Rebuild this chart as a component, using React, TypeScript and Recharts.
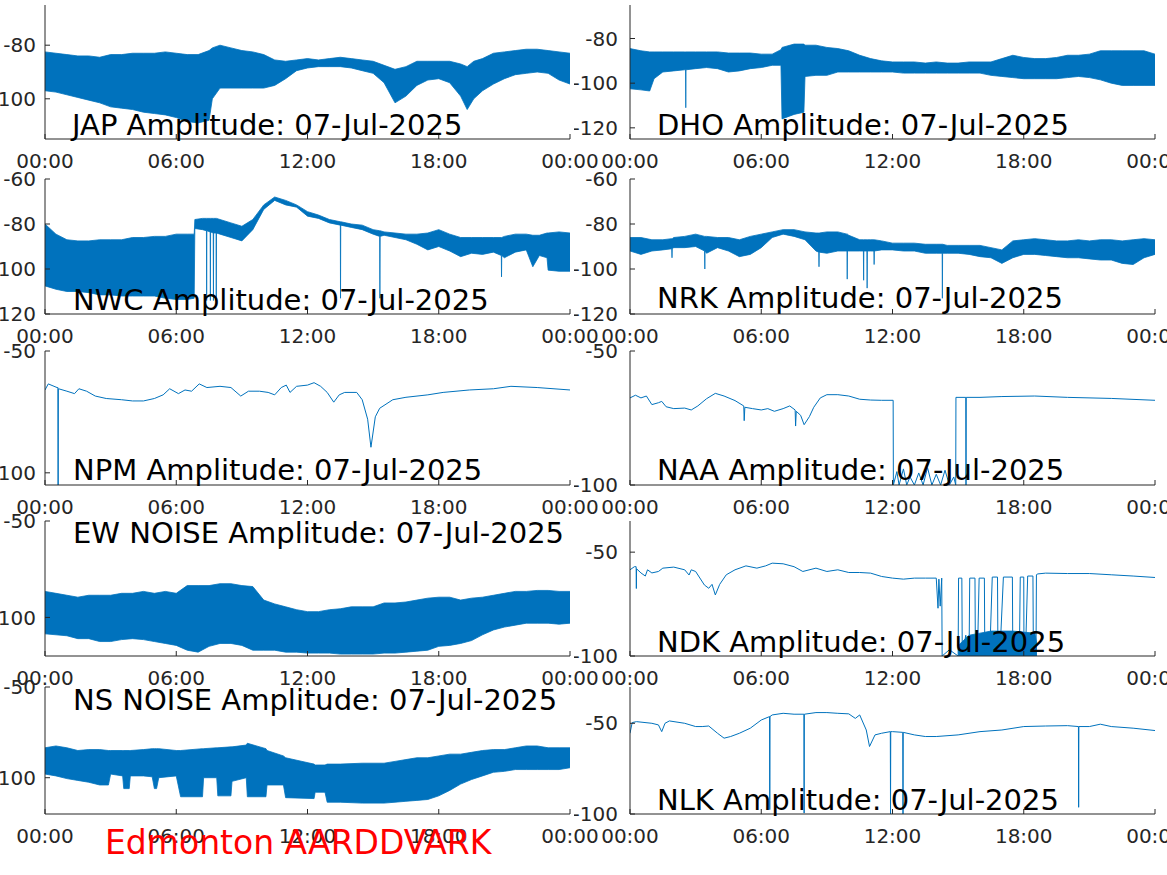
import { ComposedChart, Area, Line, XAxis, YAxis } from "recharts";

const BLUE = "#0072BD";
const INK = "#262626";
const FONT = "DejaVu Sans";

const hourTicks = [0, 6, 12, 18, 24];
const hourLabels = ["00:00", "06:00", "12:00", "18:00", "00:00"];

// JAP (noisy band: upper / lower envelope)
const japT = [0, 0.5, 1, 1.5, 2, 2.5, 3, 3.5, 4, 4.5, 5, 5.5, 6, 6.5, 7, 7.5, 7.65, 8, 8.5, 9, 9.5, 10, 10.5, 11, 11.5, 12, 12.5, 13, 13.5, 14, 14.5, 15, 15.5, 16, 16.5, 17, 17.5, 18, 18.5, 19, 19.3, 19.6, 20, 20.5, 21, 21.5, 22, 22.5, 23, 23.5, 24];
const japHi = [-82.5, -83, -83.5, -84, -84, -84.5, -83.5, -83.5, -83, -83, -83, -82.5, -83, -83.5, -83.5, -82, -81, -80, -81, -82, -82.5, -83.5, -85.5, -86, -85.5, -85, -85.5, -85, -84.5, -85, -85.5, -86, -87.5, -89, -88, -86, -86, -86, -86, -87, -88, -86, -85, -83, -82.5, -82, -81.5, -81.5, -82, -82.5, -83];
const japLo = [-97, -97.5, -98.5, -99.5, -100.5, -101.5, -103, -103.5, -104, -105, -105.5, -106, -107, -108.5, -109, -108, -100, -96, -96, -96, -96, -96, -95, -92.5, -89.5, -88.5, -88, -88, -88, -88.5, -89.5, -90.5, -94, -101.5, -99, -95, -93, -92.5, -94, -99, -104, -100, -97, -94.5, -92.5, -91, -90.5, -90, -90.5, -93, -94.5];

// DHO
const dhoT = [0, 0.5, 0.9, 1.1, 1.5, 2, 2.5, 2.54, 2.55, 2.56, 3, 3.5, 4, 4.5, 5, 5.5, 6, 6.5, 6.9, 6.95, 7.5, 7.95, 8, 8.5, 9, 9.5, 10, 10.5, 11, 11.5, 12, 12.5, 13, 13.5, 14, 14.5, 15, 15.5, 16, 16.5, 17, 17.5, 18, 18.5, 19, 19.5, 20, 20.5, 21, 21.5, 22, 22.5, 23, 23.5, 24];
const dhoHi = [-84.5, -85.5, -86, -86, -86, -86, -86, -86, -86, -86, -86, -86, -86, -86.5, -86.5, -86.5, -87, -87, -85, -84, -82.5, -82.5, -83, -83, -84, -84.5, -85.5, -87.5, -89, -90, -90.5, -90.5, -90.5, -91, -90.5, -91, -91, -90.5, -90.5, -90.5, -89, -87.5, -88.5, -89, -89, -88.5, -87.5, -87.5, -87, -85.5, -85.5, -85.5, -85.5, -85.5, -87];
const dhoLo = [-102.5, -103, -103.5, -98, -95, -94.5, -94, -94, -111, -94, -93.5, -93, -93.5, -95, -94.5, -93.5, -93, -92, -92, -116, -114, -113, -97, -96.5, -96.5, -95, -95, -95, -95, -95, -95, -95.5, -95.5, -95.5, -95.5, -95.5, -95.5, -95.5, -95.5, -96.5, -97, -97.5, -98, -98, -98, -98, -97.5, -97, -97.5, -98.5, -100, -101, -101, -101, -101];

// NWC
const nwcT = [0, 0.5, 1, 1.5, 2, 2.5, 3, 3.5, 4, 4.5, 5, 5.5, 6, 6.5, 6.82, 6.85, 7.2, 7.38, 7.39, 7.4, 7.55, 7.56, 7.57, 7.69, 7.7, 7.71, 7.82, 7.83, 7.84, 8, 8.5, 9, 9.5, 10, 10.5, 11, 11.5, 12, 12.5, 13, 13.5, 13.51, 13.52, 14, 14.5, 15, 15.3, 15.31, 15.32, 15.5, 16, 16.5, 17, 17.5, 18, 18.5, 19, 19.5, 20, 20.5, 20.86, 20.87, 20.88, 21, 21.5, 22, 22.3, 22.6, 22.95, 23, 23.5, 24];
const nwcHi = [-80, -84.5, -87, -87.5, -87.5, -87, -87, -87, -86, -86, -85.5, -85.5, -84.5, -84.5, -84.5, -78, -77.5, -77.5, -77.5, -77.5, -77.5, -77.5, -77.5, -77.5, -77.5, -77.5, -77.5, -77.5, -77.5, -78, -79.5, -81, -78, -71.5, -68, -69.5, -71.5, -74.5, -76, -78, -79, -79, -79, -80, -80.5, -82.5, -83, -83, -83, -83.5, -84, -84.5, -84.5, -84, -82.5, -84.5, -86, -86, -86, -86, -86, -86, -86, -85.5, -84.5, -84.5, -85, -85, -84, -84, -83.5, -84];
const nwcLo = [-107.5, -109, -110, -110, -110.5, -111.5, -111.5, -112, -112, -112, -112, -113, -113.5, -113.5, -113, -82, -82.5, -83, -114, -83, -83.5, -114, -83.5, -84, -114, -84, -84, -114, -84, -84.5, -86, -87.5, -82.5, -73.5, -69.5, -71.5, -72.5, -76.5, -77.5, -79.5, -80.5, -113, -80.5, -81.5, -82.5, -84.5, -85.5, -113, -85.5, -85, -86, -87, -89, -91.5, -90, -92, -94.5, -93, -93.5, -92.5, -94, -103.5, -94, -95, -92.5, -91.5, -99, -94, -95, -100.5, -101, -101];

// NRK
const nrkT = [0, 0.5, 1, 1.5, 1.91, 1.92, 1.93, 2, 2.5, 3, 3.41, 3.42, 3.43, 3.5, 4, 4.5, 5, 5.5, 6, 6.5, 7, 7.5, 8, 8.5, 8.63, 8.64, 8.65, 9, 9.5, 9.92, 9.93, 9.94, 10, 10.5, 10.67, 10.68, 10.69, 10.83, 10.84, 10.85, 11, 11.15, 11.16, 11.17, 11.5, 12, 12.5, 13, 13.5, 14, 14.27, 14.28, 14.29, 14.5, 15, 15.5, 16, 16.5, 17, 17.5, 18, 18.5, 19, 19.5, 20, 20.5, 21, 21.5, 22, 22.5, 23, 23.5, 24];
const nrkHi = [-86, -86, -87, -87, -86.5, -86.5, -86.5, -86, -85.5, -84.5, -85.5, -85.5, -85.5, -85.5, -86, -86, -87, -85.5, -84.5, -83.5, -82.5, -82.5, -83.5, -84, -84, -84, -84, -83.5, -83.5, -84.5, -84.5, -84.5, -85, -87, -87, -87, -87, -87, -87, -87, -87, -87, -87, -87, -87.5, -88.5, -88.5, -88.5, -89, -89, -89, -89, -89, -89.5, -89.5, -89.5, -89.5, -90.5, -91.5, -87.5, -87, -86.5, -87, -87.5, -87.5, -87, -87.5, -87, -87, -87.5, -87, -86.5, -87];
const nrkLo = [-92, -93.5, -92, -91.5, -91, -95, -91, -90.5, -90.5, -90, -92, -100, -92, -93, -90.5, -92, -94.5, -93.5, -90.5, -86, -84.5, -85.5, -87, -92, -92.5, -99, -92.5, -93, -92, -92, -104.5, -92, -92, -92, -92, -105, -92, -92, -108.5, -92, -92, -92, -98, -92, -91.5, -91.5, -92, -92, -93, -93, -93, -113, -93, -93, -93, -93.5, -94.5, -95, -97.5, -95, -93.5, -93.5, -94, -94.5, -95, -95, -95.5, -96, -96, -97.5, -98, -95, -93.5];

// NPM (single trace)
const npmT = [0, 0.15, 0.55, 0.59, 0.6, 0.61, 0.62, 1, 1.35, 1.55, 1.9, 2.3, 2.8, 3.5, 4, 4.5, 5, 5.4, 5.7, 6.1, 6.4, 6.7, 7.05, 7.4, 8, 8.5, 8.95, 9.3, 9.8, 10.2, 10.5, 10.8, 11.03, 11.2, 11.5, 12, 12.3, 12.6, 12.9, 13.2, 13.45, 13.7, 14.25, 14.5, 14.75, 14.9, 15.1, 15.3, 15.9, 16.5, 17.5, 18.2, 19.4, 20.5, 21.3, 22.5, 24];
const npmV = [-66, -63.5, -65, -65, -106, -65.5, -65.5, -66.5, -67.5, -65.5, -66.5, -68.5, -69.5, -70, -70.5, -70.5, -69.5, -68, -65.5, -67.5, -66, -66.5, -63.5, -65, -64.5, -65, -68.5, -66.5, -66.5, -67, -68, -65, -64, -67, -64.5, -64, -63, -64.5, -67, -71, -68, -67, -67, -70, -78, -89.5, -77, -73.5, -70, -69, -68, -67, -66, -65.5, -64.5, -65, -66];

// NAA
const naaT = [0, 0.25, 0.5, 0.75, 1, 1.3, 1.45, 1.65, 2, 2.5, 2.8, 3.1, 3.5, 3.9, 4.3, 4.8, 5.2, 5.22, 5.25, 5.6, 6, 6.3, 6.6, 7, 7.3, 7.55, 7.57, 7.6, 7.8, 7.96, 8.2, 8.4, 8.7, 9, 9.5, 10, 10.5, 11, 11.5, 12.03, 12.04, 12.2, 12.3, 12.5, 12.65, 12.8, 13, 13.2, 13.4, 13.6, 13.8, 14, 14.2, 14.4, 14.6, 14.8, 14.89, 14.9, 15.35, 15.36, 15.37, 16, 17, 18.5, 20, 22, 24];
const naaV = [-67.5, -66.5, -67.5, -66.8, -70, -69.3, -68.8, -70.8, -71.5, -71.3, -72, -70.5, -67.8, -65.8, -66.8, -68.5, -70.5, -76, -71, -71.5, -72, -71.5, -72.5, -71.5, -70.5, -72, -78, -72.5, -74, -77.5, -74.5, -71, -67.5, -66.3, -66.3, -66.8, -68, -68.3, -68.4, -68.4, -100, -95, -100, -94, -100, -97, -100, -95.5, -100, -93.5, -100, -96, -100, -94.5, -100, -97, -100, -67.3, -67.3, -100, -67.3, -67.3, -67, -66.8, -67.3, -67.7, -68.4];

// EW NOISE
const ewT = [0, 0.5, 1, 1.5, 2, 2.5, 3, 3.5, 4, 4.5, 5, 5.5, 6, 6.5, 7, 7.5, 8, 8.5, 9, 9.5, 10, 10.5, 11, 11.5, 12, 12.5, 13, 13.5, 14, 14.5, 15, 15.5, 16, 16.5, 17, 17.5, 18, 18.5, 19, 19.5, 20, 20.5, 21, 21.5, 22, 22.5, 23, 23.5, 24];
const ewHi = [-86.5, -87.5, -88.5, -89.5, -88.5, -88.5, -88.5, -87.5, -87.5, -86.5, -87.5, -86.5, -87.5, -83.5, -83.5, -83.5, -82.5, -82.5, -83.5, -84, -91, -93, -94.5, -96, -97, -97, -96, -95.5, -94.5, -94.5, -94.5, -92.5, -92.5, -92, -91, -90, -89.5, -89.5, -91, -90, -89.5, -88.5, -87.5, -86.5, -86.5, -86, -86, -86.5, -86.5];
const ewLo = [-108.5, -109, -109.5, -111, -111, -112.5, -112.5, -111.5, -111, -111.5, -112.5, -113.5, -114.5, -117, -118, -115, -113.5, -113.5, -114.5, -117, -117, -117, -118, -118, -118.5, -118.5, -118.5, -119, -119, -119, -119, -118.5, -118.5, -118, -117.5, -117, -115, -114.5, -113.5, -112, -109, -106.5, -105, -104, -103, -103, -103, -103.5, -103];

// NDK
const ndkT = [0, 0.2, 0.28, 0.29, 0.3, 0.5, 0.7, 0.8, 1, 1.3, 1.5, 2, 2.5, 2.7, 2.8, 3, 3.4, 3.6, 3.75, 3.9, 4.1, 4.4, 4.8, 5.3, 5.8, 6.2, 6.5, 7, 7.5, 7.9, 8.5, 9, 9.5, 10, 10.5, 11, 11.5, 12, 12.5, 13, 13.5, 14, 14.08, 14.12, 14.18, 14.25, 14.27, 14.6, 15, 15.02, 15.17, 15.19, 15.35, 15.5, 15.53, 15.77, 15.79, 15.9, 15.96, 16.2, 16.22, 16.35, 16.45, 16.56, 16.8, 16.82, 16.95, 17.07, 17.48, 17.5, 17.65, 17.8, 17.84, 18, 18.01, 18.1, 18.18, 18.42, 18.44, 18.5, 18.56, 18.58, 18.62, 19, 20, 21, 22, 23, 24];
const ndkV = [-58.5, -57, -57, -67.5, -58, -60, -61.5, -58.5, -60, -59.3, -57.7, -57.2, -58.5, -61, -58.5, -59.3, -65.8, -67.4, -65.5, -70.6, -65.5, -60.9, -58.5, -56.6, -57.7, -56.6, -55.3, -55.6, -57, -59.3, -57.7, -59.3, -58.5, -59.8, -59.8, -60.1, -61.7, -62.5, -63, -62.5, -62.5, -62.5, -77, -63, -76, -62.5, -100, -97, -100, -62.5, -62.5, -100, -90, -100, -62.5, -62.5, -100, -92, -62.5, -62.5, -100, -89, -98, -62, -62, -100, -90, -62, -62, -100, -88, -100, -62, -62, -100, -91, -61.5, -61.5, -100, -88, -100, -61, -60.5, -60.1, -60.3, -60.3, -60.9, -61.5, -62.2];
const ndkBlobT = [15, 15.5, 16, 16.5, 17, 17.5, 18, 18.5, 18.6];
const ndkBlobHi = [-95, -90, -89, -88, -88, -88, -88.5, -89, -94];
const ndkBlobLo = [-100, -100, -100, -100, -100, -100, -100, -100, -100];

// NS NOISE
const nsT = [0, 0.5, 1, 1.5, 2, 2.5, 2.9, 3, 3.55, 3.6, 3.85, 3.9, 4.5, 4.9, 5, 5.1, 5.2, 6, 6.2, 7.2, 7.25, 7.85, 7.9, 8.5, 8.55, 9.2, 9.25, 10.1, 10.15, 10.9, 11, 12.3, 12.35, 12.8, 12.9, 13.5, 14.5, 15.5, 16, 16.5, 17, 17.5, 18, 18.5, 19, 19.5, 20, 20.5, 21, 21.5, 22, 22.5, 23, 23.5, 24];
const nsHi = [-83.5, -82.5, -83.5, -85, -84.5, -84.5, -85, -85, -85, -85, -85, -85, -84.5, -84, -84, -84, -84, -85, -85, -84, -84, -83.5, -83.5, -83, -83, -82, -81, -84, -85, -88, -89, -92.5, -93, -93, -92.5, -92.5, -92, -92, -91, -90, -89, -89, -88, -87, -87, -86, -85, -84.5, -84.5, -83.5, -82.5, -82.5, -83.5, -83.5, -83.5];
const nsLo = [-98, -99, -100.5, -101.5, -102.5, -104, -104, -98, -99, -106, -106, -99, -99, -99.5, -106, -106, -100, -99, -110.5, -110.5, -100, -100, -110, -110, -102, -100, -110.5, -110.5, -104, -104, -111, -111.5, -108, -108, -113.5, -113.5, -114, -114, -113.5, -113, -112.5, -112, -110, -107, -103.5, -101, -99, -97, -96.5, -95.5, -95.5, -95.5, -95.5, -95.5, -94.5];

// NLK
const nlkT = [0, 0.1, 0.3, 1, 1.3, 1.45, 1.6, 1.8, 2.5, 3, 3.3, 3.6, 4, 4.3, 4.6, 5, 5.5, 6, 6.38, 6.39, 6.4, 6.5, 7, 7.5, 7.95, 7.96, 7.97, 8.5, 9, 9.5, 10, 10.3, 10.5, 10.8, 10.95, 11.2, 11.5, 11.9, 11.91, 11.92, 12, 12.47, 12.48, 12.49, 13, 13.5, 14, 15, 16, 17, 18, 19, 20, 20.5, 20.51, 20.52, 21, 21.5, 22, 23, 24];
const nlkV = [-55.5, -49.6, -49.1, -50, -50.9, -54.6, -50, -48.7, -50, -51.8, -51.8, -51.5, -55.5, -58.2, -57.3, -55.5, -52.7, -48.2, -46.3, -97.6, -46.3, -45.4, -44.5, -45, -45, -99.5, -45, -44.1, -44.1, -44.5, -44.8, -47.3, -45.4, -53.7, -62.8, -56.4, -55.5, -54.6, -100, -54.6, -54.6, -55, -100, -55, -56.4, -57.3, -57.3, -56.4, -54.6, -53.7, -51.8, -51.5, -51.3, -51.8, -96.3, -51.8, -51.8, -50.5, -51.8, -52.7, -54];

const band = (t: number[], lo: number[], hi: number[]) => t.map((x, i) => ({ t: x, v: [lo[i], hi[i]] }));
const trace = (t: number[], v: number[]) => t.map((x, i) => ({ t: x, v: v[i] }));

const PLOT_W = 525;
const PAD_T = 14;
const PAD_R = 40;
const X_H = 36;
const tickStyle = { fill: INK, fontSize: 20, fontFamily: FONT };

function Panel({ x, y, h, yw, gap, domain, ticks, children }: any) {
  return (
    <div style={{ position: "absolute", left: x - yw, top: y - PAD_T }}>
      <ComposedChart width={yw + PLOT_W + PAD_R} height={h + PAD_T + X_H} margin={{ top: PAD_T, right: PAD_R, left: 0, bottom: 0 }}>
        <XAxis dataKey="t" type="number" domain={[0, 24]} ticks={hourTicks} interval={0}
          tickFormatter={(v: number) => hourLabels[hourTicks.indexOf(v)]}
          height={X_H} tickSize={-5} tickMargin={20} tick={tickStyle}
          stroke={INK} allowDataOverflow />
        <XAxis xAxisId="top" orientation="top" type="number" domain={[0, 24]} ticks={hourTicks}
          interval={0} height={0} tickSize={-5} tick={false} stroke={INK} allowDataOverflow />
        <YAxis type="number" domain={domain} ticks={ticks} interval={0} width={yw}
          tickSize={-5} tickMargin={gap + 5} tick={tickStyle} stroke={INK} allowDataOverflow />
        <YAxis yAxisId="right" orientation="right" type="number" domain={domain} ticks={ticks}
          interval={0} width={0} tickSize={-5} tick={false} stroke={INK} allowDataOverflow />
        {children}
      </ComposedChart>
    </div>
  );
}

const bandSeries = (data: any[]) => (
  <Area data={data} dataKey="v" type="linear" stroke={BLUE} strokeWidth={0.8} fill={BLUE}
    fillOpacity={1} isAnimationActive={false} />
);
const lineSeries = (data: any[]) => (
  <Line data={data} dataKey="v" type="linear" stroke={BLUE} strokeWidth={1} dot={false}
    isAnimationActive={false} />
);

const L = { x: 45, yw: 45, gap: 9 };
const R = { x: 630, yw: 56, gap: 12 };

const titles = [
  { text: "JAP Amplitude: 07-Jul-2025", x: 72, y: 135 },
  { text: "DHO Amplitude: 07-Jul-2025", x: 657, y: 135 },
  { text: "NWC Amplitude: 07-Jul-2025", x: 73, y: 310 },
  { text: "NRK Amplitude: 07-Jul-2025", x: 657, y: 308 },
  { text: "NPM Amplitude: 07-Jul-2025", x: 73, y: 480 },
  { text: "NAA Amplitude: 07-Jul-2025", x: 657, y: 480 },
  { text: "EW NOISE Amplitude: 07-Jul-2025", x: 73, y: 543 },
  { text: "NDK Amplitude: 07-Jul-2025", x: 657, y: 652 },
  { text: "NS NOISE Amplitude: 07-Jul-2025", x: 73, y: 710 },
  { text: "NLK Amplitude: 07-Jul-2025", x: 657, y: 810 },
];

export default function App() {
  return (
    <div style={{ position: "absolute", left: 0, top: 0, width: 1167, height: 875, background: "#fff", overflow: "hidden" }}>
      <Panel {...L} y={5} h={134} domain={[-115, -65]} ticks={[-100, -80]}>
        {bandSeries(band(japT, japLo, japHi))}
      </Panel>
      <Panel {...R} y={5} h={134} domain={[-125, -65]} ticks={[-120, -100, -80]}>
        {bandSeries(band(dhoT, dhoLo, dhoHi))}
      </Panel>
      <Panel {...L} y={179} h={135} domain={[-120, -60]} ticks={[-120, -100, -80, -60]}>
        {bandSeries(band(nwcT, nwcLo, nwcHi))}
      </Panel>
      <Panel {...R} y={179} h={135} domain={[-120, -60]} ticks={[-120, -100, -80, -60]}>
        {bandSeries(band(nrkT, nrkLo, nrkHi))}
      </Panel>
      <Panel {...L} y={351} h={134} domain={[-105, -50]} ticks={[-100, -50]}>
        {lineSeries(trace(npmT, npmV))}
      </Panel>
      <Panel {...R} y={351} h={134} domain={[-100, -50]} ticks={[-100, -50]}>
        {lineSeries(trace(naaT, naaV))}
      </Panel>
      <Panel {...L} y={521} h={135} domain={[-120, -50]} ticks={[-100, -50]}>
        {bandSeries(band(ewT, ewLo, ewHi))}
      </Panel>
      <Panel {...R} y={521} h={135} domain={[-100, -35]} ticks={[-100, -50]}>
        {bandSeries(band(ndkBlobT, ndkBlobLo, ndkBlobHi))}
        {lineSeries(trace(ndkT, ndkV))}
      </Panel>
      <Panel {...L} y={687} h={127} domain={[-120, -50]} ticks={[-100, -50]}>
        {bandSeries(band(nsT, nsLo, nsHi))}
      </Panel>
      <Panel {...R} y={687} h={127} domain={[-100, -30]} ticks={[-100, -50]}>
        {lineSeries(trace(nlkT, nlkV))}
      </Panel>
      <svg width={1167} height={875} style={{ position: "absolute", left: 0, top: 0, pointerEvents: "none" }}>
        {titles.map((t) => (
          <text key={t.text} x={t.x} y={t.y} fontFamily={FONT} fontSize={29} fill="#000">{t.text}</text>
        ))}
        <text x={105} y={854} fontFamily={FONT} fontSize={33} fill="#FF0000">Edmonton AARDDVARK</text>
      </svg>
    </div>
  );
}
